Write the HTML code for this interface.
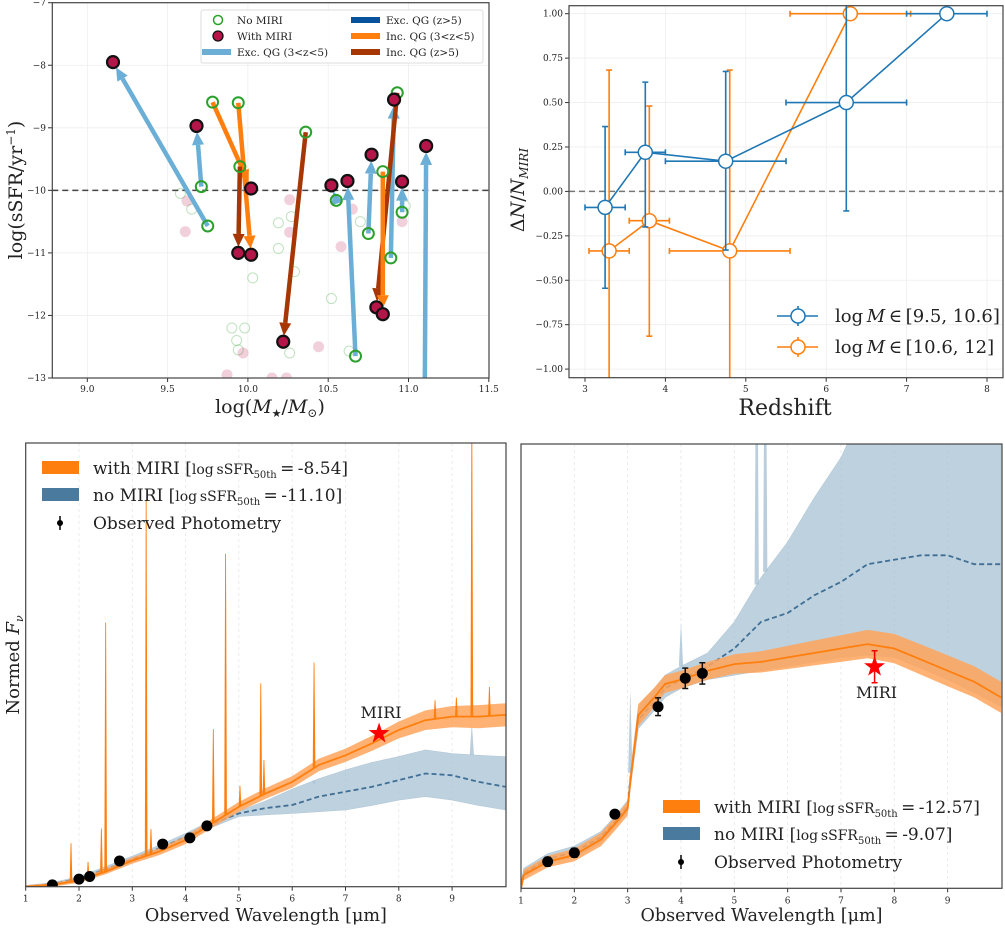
<!DOCTYPE html>
<html><head><meta charset="utf-8">
<style>
html,body{margin:0;padding:0;background:#fff;}
svg{display:block;font-family:"DejaVu Serif","Liberation Serif",serif;}
</style></head>
<body>
<svg id="fig" width="1005" height="930" viewBox="0 0 1005 930" xmlns="http://www.w3.org/2000/svg">
<defs>
<clipPath id="cTL"><rect x="52.3" y="2.7" width="436.7" height="375.3"/></clipPath>
<clipPath id="cTR"><rect x="569" y="5.7" width="434" height="372"/></clipPath>
<clipPath id="cBL"><rect x="25.7" y="443" width="480.3" height="443.7"/></clipPath>
<clipPath id="cBR"><rect x="521" y="444" width="481" height="444.3"/></clipPath>
</defs>
<g id="gTL"></g>
<g id="gTR"></g>
<g id="gBL"></g>
<g id="gBR"></g>
</svg>
<script>
// ---------- TOP-LEFT data ----------
const arrowStartMass = [9.75, 9.71, 10.55, 10.67, 10.75, 10.89, 10.96, 11.10, 9.78, 9.94, 9.95, 10.36, 10.93, 10.84];
const arrowStartSSFR = [-10.57, -9.94, -10.16, -12.65, -10.69, -11.08, -10.35, -13.8, -8.59, -8.60, -9.62, -9.07, -8.44, -9.70];
const arrowEndMass = [9.16, 9.68, 10.52, 10.62, 10.77, 10.91, 10.96, 11.11, 10.02, 10.02, 9.94, 10.22, 10.80, 10.84];
const arrowEndSSFR = [-7.95, -8.97, -9.92, -9.85, -9.43, -8.55, -9.86, -9.29, -9.97, -11.03, -11.00, -12.42, -11.87, -11.98];
const arrowGroup = ["exc35","exc35","exc35","exc35","exc35","exc35","exc35","exc35","inc35","inc35","inc5","inc5","inc5","inc35"];
const faintMass = [9.58, 9.65, 9.61, 9.62, 10.19, 10.26, 10.27, 10.26, 10.19, 10.29, 10.03, 10.52, 10.58, 10.65, 10.70, 9.90, 9.93, 9.98, 9.94, 9.97, 9.87, 10.26, 10.44, 10.63, 10.98, 10.96, 10.15, 10.24];
const faintSSFR = [-10.05, -10.3, -10.66, -10.17, -10.52, -10.15, -10.42, -10.67, -10.93, -11.3, -11.4, -11.73, -10.9, -10.3, -10.5, -12.2, -12.4, -12.2, -12.55, -12.6, -12.95, -12.6, -12.5, -12.57, -10.25, -10.5, -13.0, -13.0];
const faintType = ["g","g","r","r","g","r","g","r","g","g","g","g","r","r","g","g","g","g","g","r","r","g","r","g","g","r","r","r"];
const tlXTicks = [9.0, 9.5, 10.0, 10.5, 11.0, 11.5];
const tlXTickLabels = ["9.0","9.5","10.0","10.5","11.0","11.5"];
const tlYTicks = [-7, -8, -9, -10, -11, -12, -13];
const tlYTickLabels = ["\u22127","\u22128","\u22129","\u221210","\u221211","\u221212","\u221213"];

// ---------- TOP-RIGHT data ----------
const lowZ = [3.25, 3.75, 4.75, 6.25, 7.5];
const lowVal = [-0.09, 0.22, 0.17, 0.50, 1.00];
const lowErrUp = [0.365, 0.615, 0.675, 1.10, 1.00];
const lowErrDn = [-0.545, -0.20, -0.33, -0.11, 1.00];
const lowZlo = [3.0, 3.5, 4.0, 5.5, 7.0];
const lowZhi = [3.5, 4.0, 5.5, 7.0, 8.0];
const highZ = [3.3, 3.8, 4.8, 6.3];
const highVal = [-0.335, -0.165, -0.335, 1.00];
const highErrUp = [0.683, 0.48, 0.683, 1.00];
const highErrDn = [-1.10, -0.815, -1.10, 1.00];
const highZlo = [3.05, 3.55, 4.05, 5.55];
const highZhi = [3.55, 4.05, 5.55, 7.05];
const trXTicks = [3,4,5,6,7,8];
const trYTicks = [1.0,0.75,0.5,0.25,0,-0.25,-0.5,-0.75,-1.0];
const trYTickLabels = ["1.00","0.75","0.50","0.25","0.00","\u22120.25","\u22120.50","\u22120.75","\u22121.00"];

// ---------- BOTTOM-LEFT data ----------
const blWave = [1.0,1.5,2.0,2.5,3.0,3.5,4.0,4.5,5.0,5.5,6.0,6.5,7.0,7.5,8.0,8.5,9.0,9.5,10.0];
const blOrange = [0,0.4,1.4,3.4,5.9,7.9,10.5,14.3,18.0,21.0,23.6,27.4,29.6,32.3,35.3,37.5,38.3,38.3,38.7];
const blOrangeErr = [0.3,0.4,0.5,0.6,0.7,0.8,0.9,1.0,1.1,1.2,1.3,1.4,1.5,1.7,1.9,2.2,2.4,2.6,2.6];
const blBlue = [0,0.6,1.8,3.9,6.2,8.6,11.2,14.2,16.5,17.7,18.4,20.3,21.4,22.5,24.0,25.5,25.1,23.6,22.5];
const blBlueHi = [0.3,0.9,2.3,4.5,6.9,9.3,12.0,15.0,17.0,19.3,22.0,24.3,26.3,28.0,29.3,30.8,30.0,29.6,29.3];
const blBlueLo = [0,0.3,1.3,3.3,5.5,7.9,10.4,13.4,15.8,16.2,16.5,16.9,17.3,18.3,19.5,20.3,19.5,18.3,17.3];
const blLineWave = [1.85, 2.17, 2.42, 2.50, 3.26, 3.35, 4.52, 4.75, 5.02, 5.41, 5.47, 6.41, 8.68, 9.08, 9.37, 9.70];
const blLinePeak = [9.8, 5.6, 13.1, 59.5, 87, 13, 35.5, 75, 22.7, 45.8, 28.5, 50.5, 42, 42.6, 105, 45];
const blBlueLineWave = [6.41, 9.37];
const blBlueLinePeak = [23, 37];
const blPhotW = [1.5, 2.0, 2.2, 2.76, 3.57, 4.08, 4.4];
const blPhotF = [0.4, 1.7, 2.3, 5.8, 9.6, 11.0, 13.7];
const blMiriW = [7.63];
const blMiriF = [34.5];

// ---------- BOTTOM-RIGHT data ----------
const brWave = [1.0,1.05,1.5,2.0,2.5,2.76,3.0,3.05,3.2,3.5,3.7,4.0,4.5,5.0,5.5,6.0,6.5,7.0,7.5,8.0,8.5,9.0,9.5,10.0];
const brOrange = [0,3,6,7.5,11,14.5,18,24,39,43,46,47,49,50.5,51,52,53,54,55,54,51.5,49,46.5,43];
const brOrangeErr = [1,1.2,1.3,1.4,1.5,1.5,1.6,2,2.5,2.2,2.0,2.0,2.0,2.2,2.4,2.6,2.8,3.0,3.2,3.3,3.4,3.5,3.5,3.5];
const brBlue = [0,3.4,6.6,8.2,11.5,15.0,18.4,24.5,38,42,45,47,50,54,60,62,66,69,73,74,75,75,73,73];
const brBlueHi = [1,4.5,7.8,9.5,12.8,16.2,19.8,26,41,45,48,50,53,60,70,78,88,97,110,120,125,125,125,125];
const brBlueLo = [0,2.5,5.6,7.0,10.2,13.8,17.2,22.5,36,40,43,45,47,48,49,50,51,52,52.5,52,49.5,47,44,41];
const brBlueLineWave = [3.05, 4.0, 5.42, 5.58];
const brBlueLinePeak = [45, 60, 150, 150];
const brPhotW = [1.5, 2.0, 2.76, 3.57, 4.08, 4.4];
const brPhotF = [6.0, 8.0, 16.7, 40.9, 47.3, 48.4];
const brPhotErr = [1.0, 1.0, 0.8, 2.0, 2.3, 2.4];
const brMiriW = [7.63];
const brMiriF = [49.9];
const brMiriErr = [3.6];
const specTicks = [1,2,3,4,5,6,7,8,9];

const NS = "http://www.w3.org/2000/svg";
function mk(parent, tag, attrs, name, inter) {
  const el = document.createElementNS(NS, tag);
  for (const k in attrs) el.setAttribute(k, attrs[k]);
  
  
  parent.appendChild(el);
  return el;
}
function txt(parent, x, y, s, size, anchor, name, extra) {
  const t = mk(parent, 'text', Object.assign({x:x, y:y, 'font-size':size, 'text-anchor':anchor||'start', fill:'#222'}, extra||{}), name, false);
  t.textContent = s;
  return t;
}
function interp(xs, ys, x) {
  for (let i=0;i<xs.length-1;i++) if (x>=xs[i] && x<=xs[i+1]) return ys[i]+(ys[i+1]-ys[i])*(x-xs[i])/(xs[i+1]-xs[i]);
  return ys[ys.length-1];
}
function linePath(xs, ys, sx, sy) { return xs.map((x,i)=>(i?'L':'M')+sx(x).toFixed(1)+','+sy(ys[i]).toFixed(1)).join(''); }
function bandPath(xs, hi, lo, sx, sy) {
  let d = xs.map((x,i)=>(i?'L':'M')+sx(x).toFixed(1)+','+sy(hi[i]).toFixed(1)).join('');
  for (let i=xs.length-1;i>=0;i--) d += 'L'+sx(xs[i]).toFixed(1)+','+sy(lo[i]).toFixed(1);
  return d+'Z';
}

// ================= TOP-LEFT =================
(function(){
  const g = document.getElementById('gTL');
  const sx = m => 87.3 + (m-9)*160.6;
  const sy = v => 2.7 + (-7 - v)*62.55;
  mk(g,'rect',{x:52.3,y:2.7,width:436.7,height:375.3,fill:'#fff'},'plot-area',false);
  tlXTicks.forEach((t,i)=>{
    mk(g,'line',{x1:sx(t),x2:sx(t),y1:2.7,y2:378,stroke:'#eee','stroke-width':0.8},'x-gridline',false);
    mk(g,'line',{x1:sx(t),x2:sx(t),y1:378,y2:382,stroke:'#333'},'x-tick',false);
    txt(g,sx(t),392,tlXTickLabels[i],9,'middle','x-tick-label');
  });
  tlYTicks.forEach((t,i)=>{
    mk(g,'line',{x1:52.3,x2:489,y1:sy(t),y2:sy(t),stroke:'#eee','stroke-width':0.8},'y-gridline',false);
    mk(g,'line',{x1:48,x2:52.3,y1:sy(t),y2:sy(t),stroke:'#333'},'y-tick',false);
    txt(g,46,sy(t)+3,tlYTickLabels[i],9,'end','y-tick-label');
  });
  const c = mk(g,'g',{'clip-path':'url(#cTL)'},'data-layer',false);
  faintMass.forEach((m,i)=>{
    if (faintType[i]==='g') mk(c,'circle',{cx:sx(m),cy:sy(faintSSFR[i]),r:5,fill:'none',stroke:'#2ca02c','stroke-width':1,opacity:0.3},'faint-no-miri-point',false);
    else mk(c,'circle',{cx:sx(m),cy:sy(faintSSFR[i]),r:5.5,fill:'#c0144a',opacity:0.2},'faint-with-miri-point',false);
  });
  mk(c,'line',{x1:52.3,x2:489,y1:sy(-10),y2:sy(-10),stroke:'#444','stroke-width':1.5,'stroke-dasharray':'6,4'},'threshold-line',false);
  const colors = {exc35:'#6baed6', exc5:'#08519c', inc35:'#ff7f0e', inc5:'#a63603'};
  arrowStartMass.forEach((m,i)=>{
    const x1=sx(m), y1=sy(arrowStartSSFR[i]), x2=sx(arrowEndMass[i]), y2=sy(arrowEndSSFR[i]);
    const dx=x2-x1, dy=y2-y1, L=Math.hypot(dx,dy), ux=dx/L, uy=dy/L;
    const tx=x2-ux*6, ty=y2-uy*6, bx=tx-ux*13, by=ty-uy*13;
    const col = colors[arrowGroup[i]];
    mk(c,'line',{x1:x1,y1:y1,x2:bx,y2:by,stroke:col,'stroke-width':4.5},'arrow-shaft',false);
    mk(c,'polygon',{points:`${tx},${ty} ${bx-uy*6},${by+ux*6} ${bx+uy*6},${by-ux*6}`,fill:col},'arrow-head',false);
  });
  arrowStartMass.forEach((m,i)=>{
    mk(c,'circle',{cx:sx(m),cy:sy(arrowStartSSFR[i]),r:5.5,fill:'none',stroke:'#2ca02c','stroke-width':2},'no-miri-point',false);
  });
  arrowEndMass.forEach((m,i)=>{
    mk(c,'circle',{cx:sx(m),cy:sy(arrowEndSSFR[i]),r:6,fill:'#b5164a',stroke:'#111','stroke-width':2.2},'with-miri-point',false);
  });
  mk(g,'rect',{x:52.3,y:2.7,width:436.7,height:375.3,fill:'none',stroke:'#444','stroke-width':1.2},'axes-frame',false);
  const lg = mk(g,'g',{},'legend',false);
  mk(lg,'rect',{x:201,y:10,width:282,height:53,rx:2,fill:'#fff',stroke:'#ddd','fill-opacity':0.9},'legend-box',false);
  mk(lg,'circle',{cx:218,cy:20,r:4.5,fill:'none',stroke:'#2ca02c','stroke-width':1.5},'legend-no-miri-marker',false);
  txt(lg,237,24,'No MIRI',10.5,'start','legend-no-miri-label');
  mk(lg,'circle',{cx:218,cy:36,r:5,fill:'#b5164a',stroke:'#111','stroke-width':1.3},'legend-with-miri-marker',false);
  txt(lg,237,40,'With MIRI',10.5,'start','legend-with-miri-label');
  mk(lg,'rect',{x:202,y:49,width:29,height:6,fill:'#6baed6'},'legend-exc35-patch',false);
  txt(lg,237,56,'Exc. QG (3<z<5)',10.5,'start','legend-exc35-label');
  mk(lg,'rect',{x:351,y:17,width:29,height:6,fill:'#08519c'},'legend-exc5-patch',false);
  txt(lg,386,24,'Exc. QG (z>5)',10.5,'start','legend-exc5-label');
  mk(lg,'rect',{x:351,y:33,width:29,height:6,fill:'#ff7f0e'},'legend-inc35-patch',false);
  txt(lg,386,40,'Inc. QG (3<z<5)',10.5,'start','legend-inc35-label');
  mk(lg,'rect',{x:351,y:49,width:29,height:6,fill:'#a63603'},'legend-inc5-patch',false);
  txt(lg,386,56,'Inc. QG (z>5)',10.5,'start','legend-inc5-label');
  const xl = txt(g,270,413,'',19,'middle','x-axis-title');
  xl.innerHTML = 'log(<tspan font-style="italic">M</tspan><tspan font-size="11" dy="4">\u2605</tspan><tspan dy="-4">/</tspan><tspan font-style="italic">M</tspan><tspan font-size="12" dy="4">\u2299</tspan><tspan dy="-4">)</tspan>';
  const yl = txt(g,0,0,'',19,'middle','y-axis-title',{transform:'translate(22,190) rotate(-90)'});
  yl.innerHTML = 'log(sSFR/yr<tspan font-size="12" dy="-7">\u22121</tspan><tspan dy="7">)</tspan>';
})();

// ================= TOP-RIGHT =================
(function(){
  const g = document.getElementById('gTR');
  const sx = z => 585 + (z-3)*80.4;
  const sy = v => 13.7 + (1-v)*177.7;
  mk(g,'rect',{x:569,y:5.7,width:434,height:372,fill:'#fff'},'plot-area',false);
  trXTicks.forEach(t=>{
    mk(g,'line',{x1:sx(t),x2:sx(t),y1:5.7,y2:377.7,stroke:'#eee','stroke-width':0.8},'x-gridline',false);
    mk(g,'line',{x1:sx(t),x2:sx(t),y1:377.7,y2:381.7,stroke:'#333'},'x-tick',false);
    txt(g,sx(t),392,String(t),9,'middle','x-tick-label');
  });
  trYTicks.forEach((t,i)=>{
    mk(g,'line',{x1:569,x2:1003,y1:sy(t),y2:sy(t),stroke:'#eee','stroke-width':0.8},'y-gridline',false);
    mk(g,'line',{x1:565,x2:569,y1:sy(t),y2:sy(t),stroke:'#333'},'y-tick',false);
    txt(g,563,sy(t)+3,trYTickLabels[i],9,'end','y-tick-label');
  });
  const c = mk(g,'g',{'clip-path':'url(#cTR)'},'data-layer',false);
  mk(c,'line',{x1:569,x2:1003,y1:sy(0),y2:sy(0),stroke:'#777','stroke-width':1.5,'stroke-dasharray':'6,4'},'zero-line',false);
  function series(zs,vals,up,dn,lo,hi,col,name){
    mk(c,'path',{d:linePath(zs,vals,sx,sy),fill:'none',stroke:col,'stroke-width':1.6},name+'-line',false);
    zs.forEach((z,i)=>{
      if (up[i]!==vals[i]) {
        mk(c,'line',{x1:sx(z),x2:sx(z),y1:sy(up[i]),y2:sy(dn[i]),stroke:col,'stroke-width':1.6},name+'-yerr',false);
        mk(c,'line',{x1:sx(z)-3,x2:sx(z)+3,y1:sy(up[i]),y2:sy(up[i]),stroke:col,'stroke-width':1.6},name+'-cap',false);
        mk(c,'line',{x1:sx(z)-3,x2:sx(z)+3,y1:sy(dn[i]),y2:sy(dn[i]),stroke:col,'stroke-width':1.6},name+'-cap',false);
      }
      mk(c,'line',{x1:sx(lo[i]),x2:sx(hi[i]),y1:sy(vals[i]),y2:sy(vals[i]),stroke:col,'stroke-width':1.6},name+'-xerr',false);
      mk(c,'line',{x1:sx(lo[i]),x2:sx(lo[i]),y1:sy(vals[i])-3,y2:sy(vals[i])+3,stroke:col,'stroke-width':1.6},name+'-cap',false);
      mk(c,'line',{x1:sx(hi[i]),x2:sx(hi[i]),y1:sy(vals[i])-3,y2:sy(vals[i])+3,stroke:col,'stroke-width':1.6},name+'-cap',false);
    });
    zs.forEach((z,i)=>{
      mk(c,'circle',{cx:sx(z),cy:sy(vals[i]),r:7,fill:'#fff',stroke:col,'stroke-width':1.5},name+'-point',false);
    });
  }
  series(highZ,highVal,highErrUp,highErrDn,highZlo,highZhi,'#ff7f0e','high-mass');
  series(lowZ,lowVal,lowErrUp,lowErrDn,lowZlo,lowZhi,'#1f77b4','low-mass');
  mk(g,'rect',{x:569,y:5.7,width:434,height:372,fill:'none',stroke:'#444','stroke-width':1.2},'axes-frame',false);
  const lg = mk(g,'g',{},'legend',false);
  [['#1f77b4',316,'log\u2009M\u2009\u2208\u2009[9.5, 10.6]','low-mass'],['#ff7f0e',347,'log\u2009M\u2009\u2208\u2009[10.6, 12]','high-mass']].forEach(r=>{
    mk(lg,'line',{x1:777,x2:818,y1:r[1],y2:r[1],stroke:r[0],'stroke-width':1.6},'legend-'+r[3]+'-line',false);
    mk(lg,'line',{x1:798,x2:798,y1:r[1]-10,y2:r[1]+10,stroke:r[0],'stroke-width':1.6},'legend-'+r[3]+'-err',false);
    mk(lg,'circle',{cx:798,cy:r[1],r:7,fill:'#fff',stroke:r[0],'stroke-width':1.5},'legend-'+r[3]+'-marker',false);
    const t = txt(lg,835,r[1]+6,'',18,'start','legend-'+r[3]+'-label');
    t.innerHTML = r[2].replace('M','<tspan font-style="italic">M</tspan>');
  });
  txt(g,785,415,'Redshift',22,'middle','x-axis-title');
  const yl = txt(g,0,0,'',19,'middle','y-axis-title',{transform:'translate(524,190) rotate(-90)'});
  yl.innerHTML = '\u0394<tspan font-style="italic">N</tspan>/<tspan font-style="italic">N</tspan><tspan font-size="12" font-style="italic" dy="4">MIRI</tspan>';
})();

// ================= SED panels =================
function sedPanel(gid, clipId, box, sx, sy, wave, orange, oErr, blue, bHi, bLo, lineW, lineP, bLineW, bLineP, photW, photF, photErr, miriW, miriF, miriErr, miriLabelY) {
  const g = document.getElementById(gid);
  mk(g,'rect',{x:box[0],y:box[1],width:box[2],height:box[3],fill:'#fff'},'plot-area',false);
  specTicks.forEach(t=>{
    mk(g,'line',{x1:sx(t),x2:sx(t),y1:box[1],y2:box[1]+box[3],stroke:'#e6e6e6','stroke-width':0.8,'stroke-dasharray':'3,3'},'x-gridline',false);
    mk(g,'line',{x1:sx(t),x2:sx(t),y1:box[1]+box[3],y2:box[1]+box[3]+4,stroke:'#333'},'x-tick',false);
    txt(g,sx(t),box[1]+box[3]+15,String(t),9,'middle','x-tick-label');
  });
  const c = mk(g,'g',{'clip-path':'url(#'+clipId+')'},'data-layer',false);
  mk(c,'path',{d:bandPath(wave,bHi,bLo,sx,sy),fill:'#a9c2d4',opacity:0.75,stroke:'#9ab6ca','stroke-width':0.6},'no-miri-band',false);
  bLineW.forEach((w,i)=>{
    const b = interp(wave,bHi,w);
    mk(c,'polygon',{points:`${sx(w-0.04)},${sy(b)} ${sx(w)},${sy(bLineP[i])} ${sx(w+0.04)},${sy(b)}`,fill:'#a9c2d4',opacity:0.8},'no-miri-line-feature',false);
  });
  mk(c,'path',{d:linePath(wave,blue,sx,sy),fill:'none',stroke:'#3f6f95','stroke-width':1.8,'stroke-dasharray':'5,3'},'no-miri-median',false);
  const oHi = orange.map((v,i)=>v+oErr[i]), oLo = orange.map((v,i)=>v-oErr[i]);
  mk(c,'path',{d:bandPath(wave,oHi,oLo,sx,sy),fill:'#ffa55a',opacity:0.85},'with-miri-band',false);
  mk(c,'path',{d:linePath(wave,orange,sx,sy),fill:'none',stroke:'#ff7f0e','stroke-width':1.8},'with-miri-median',false);
  lineW.forEach((w,i)=>{
    const b = interp(wave,orange,w);
    mk(c,'polygon',{points:`${sx(w-0.025)},${sy(b)} ${sx(w-0.008)},${sy(lineP[i])} ${sx(w+0.008)},${sy(lineP[i])} ${sx(w+0.025)},${sy(b)}`,fill:'#ff7f0e'},'with-miri-emission-line',false);
  });
  photW.forEach((w,i)=>{
    if (photErr) {
      const e = photErr[i];
      mk(c,'line',{x1:sx(w),x2:sx(w),y1:sy(photF[i]+e),y2:sy(photF[i]-e),stroke:'#111','stroke-width':1.5},'photometry-error',false);
      mk(c,'line',{x1:sx(w)-3,x2:sx(w)+3,y1:sy(photF[i]+e),y2:sy(photF[i]+e),stroke:'#111','stroke-width':1.5},'photometry-cap',false);
      mk(c,'line',{x1:sx(w)-3,x2:sx(w)+3,y1:sy(photF[i]-e),y2:sy(photF[i]-e),stroke:'#111','stroke-width':1.5},'photometry-cap',false);
    }
    mk(c,'circle',{cx:sx(w),cy:sy(photF[i]),r:5.5,fill:'#000'},'photometry-point',false);
  });
  miriW.forEach((w,i)=>{
    const cx=sx(w), cy=sy(miriF[i]);
    if (miriErr) {
      mk(c,'line',{x1:cx,x2:cx,y1:sy(miriF[i]+miriErr[i]),y2:sy(miriF[i]-miriErr[i]),stroke:'#e00','stroke-width':1.5},'miri-error',false);
      mk(c,'line',{x1:cx-3,x2:cx+3,y1:sy(miriF[i]+miriErr[i]),y2:sy(miriF[i]+miriErr[i]),stroke:'#e00','stroke-width':1.5},'miri-cap',false);
      mk(c,'line',{x1:cx-3,x2:cx+3,y1:sy(miriF[i]-miriErr[i]),y2:sy(miriF[i]-miriErr[i]),stroke:'#e00','stroke-width':1.5},'miri-cap',false);
    }
    let pts=[];
    for (let k=0;k<10;k++){const a=-Math.PI/2+k*Math.PI/5, r=k%2?4.3:11; pts.push((cx+r*Math.cos(a)).toFixed(1)+','+(cy+r*Math.sin(a)).toFixed(1));}
    mk(c,'polygon',{points:pts.join(' '),fill:'#f00'},'miri-star',false);
    txt(g,cx+2,miriLabelY,'MIRI',16,'middle','miri-label');
  });
  mk(g,'rect',{x:box[0],y:box[1],width:box[2],height:box[3],fill:'none',stroke:'#444','stroke-width':1.2},'axes-frame',false);
  txt(g,box[0]+box[2]/2,921,'Observed Wavelength [\u03bcm]',18,'middle','x-axis-title',{textLength:242,lengthAdjust:'spacingAndGlyphs'});
  return g;
}
function sedLegend(g, x0, ys, ssfrOrange, ssfrBlue) {
  const lg = mk(g,'g',{},'legend',false);
  mk(lg,'rect',{x:x0,y:ys[0]-7,width:37,height:13,fill:'#ff7f0e'},'legend-with-miri-patch',false);
  let t = txt(lg,x0+51,ys[0]+6,'',17,'start','legend-with-miri-label');
  t.innerHTML = 'with MIRI [<tspan font-size="14">log\u2009sSFR</tspan><tspan font-size="10" dy="4">50th</tspan><tspan dy="-4">\u2009=\u2009'+ssfrOrange+']</tspan>';
  mk(lg,'rect',{x:x0,y:ys[1]-7,width:37,height:13,fill:'#4a7a9e'},'legend-no-miri-patch',false);
  t = txt(lg,x0+51,ys[1]+6,'',17,'start','legend-no-miri-label');
  t.innerHTML = 'no MIRI [<tspan font-size="14">log\u2009sSFR</tspan><tspan font-size="10" dy="4">50th</tspan><tspan dy="-4">\u2009=\u2009'+ssfrBlue+']</tspan>';
  mk(lg,'line',{x1:x0+18,x2:x0+18,y1:ys[2]-7,y2:ys[2]+7,stroke:'#000','stroke-width':1.5},'legend-photometry-err',false);
  mk(lg,'circle',{cx:x0+18,cy:ys[2],r:3,fill:'#000'},'legend-photometry-marker',false);
  txt(lg,x0+51,ys[2]+6,'Observed Photometry',17,'start','legend-photometry-label');
}
(function(){
  const sx = w => 25.7 + (w-1)*53.3;
  const sy = v => 886.7 - v*4.44;
  const g = sedPanel('gBL','cBL',[25.7,443,480.3,443.7],sx,sy,blWave,blOrange,blOrangeErr,blBlue,blBlueHi,blBlueLo,blLineWave,blLinePeak,blBlueLineWave,blBlueLinePeak,blPhotW,blPhotF,null,blMiriW,blMiriF,null,718);
  sedLegend(g,42,[468,495,523],'-8.54','-11.10');
  const yl = txt(g,0,0,'',18,'middle','y-axis-title',{transform:'translate(19,665) rotate(-90)'});
  yl.innerHTML = 'Normed <tspan font-style="italic">F</tspan><tspan font-size="11" font-style="italic" dy="4">\u03bd</tspan>';
})();
(function(){
  const sx = w => 521 + (w-1)*53.33;
  const sy = v => 888.3 - v*4.44;
  const g = sedPanel('gBR','cBR',[521,444,481,444.3],sx,sy,brWave,brOrange,brOrangeErr,brBlue,brBlueHi,brBlueLo,[],[],brBlueLineWave,brBlueLinePeak,brPhotW,brPhotF,brPhotErr,brMiriW,brMiriF,brMiriErr,698);
  sedLegend(g,663,[807,834,862],'-12.57','-9.07');
})();
</script>
</body></html>
